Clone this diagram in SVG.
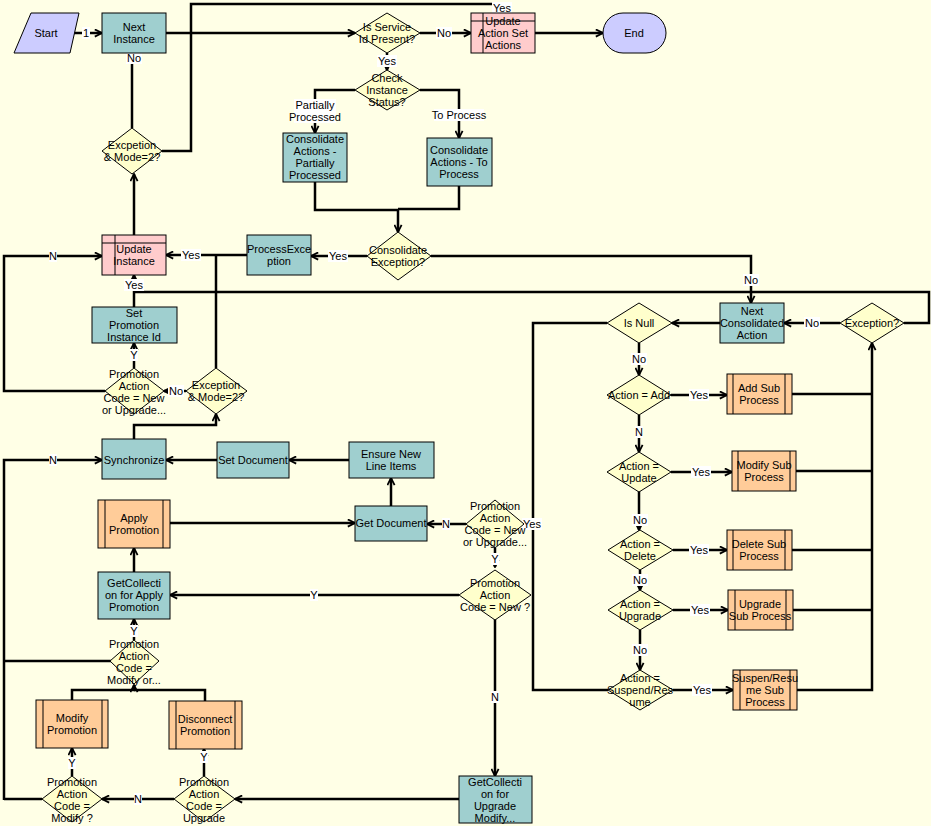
<svg xmlns="http://www.w3.org/2000/svg" width="931" height="826" viewBox="0 0 931 826">
<style>
.t{font-family:"Liberation Sans",Arial,sans-serif;font-size:11px;fill:#000;text-anchor:middle}
.teal{fill:#9FCFCF;stroke:#000;stroke-width:1}
.pink{fill:#FFCCCC;stroke:#000;stroke-width:1}
.org{fill:#FFCC99;stroke:#000;stroke-width:1}
.lav{fill:#CCCCFF;stroke:#000;stroke-width:1}
.dia{fill:#FFFFCC;stroke:#000;stroke-width:1}
.in{stroke:#000;stroke-width:1;fill:none}
.c{fill:none;stroke:#000;stroke-width:2.5}
.a{marker-end:url(#ar)}
.lb{fill:#fff}
</style>
<defs>
<marker id="ar" viewBox="0 0 10 10" refX="9" refY="5" markerWidth="9" markerHeight="9" markerUnits="userSpaceOnUse" orient="auto">
<path d="M1,1 L9,5 L1,9" fill="none" stroke="#000" stroke-width="2"/>
</marker>
</defs>
<rect width="931" height="826" fill="#FFFFE6"/>

<g id="connectors">
<path class="c a" d="M71,33 H102"/>
<path class="c a" d="M166,33 H355"/>
<path class="c a" d="M420,33 H471"/>
<path class="c a" d="M535,33 H603"/>
<path class="c a" d="M387,53 V70"/>
<path class="c a" d="M355,90 H315 V133"/>
<path class="c a" d="M420,90 H459 V138"/>
<path class="c a" d="M315,182 V210 H398 V232"/>
<path class="c" d="M459,186 V209 H398"/>
<path class="c a" d="M367,256 H311"/>
<path class="c a" d="M431,256 H751 V303"/>
<path class="c a" d="M247,255 H166"/>
<path class="c" d="M216,368 V255"/>
<path class="c a" d="M134,235 V174"/>
<path class="c a" d="M132,128 V53"/>
<path class="c a" d="M162,151 H191 V4 H503 V13"/>
<path class="c a" d="M105,391 H4 V256 H102"/>
<path class="c a" d="M134,368 V343"/>
<path class="c a" d="M134,307 V275"/>
<path class="c" d="M904,323 H929 V292 H134"/>
<path class="c a" d="M186,391 H164"/>
<path class="c a" d="M134,439 V425 H216 V414"/>
<path class="c a" d="M217,460 H166"/>
<path class="c a" d="M349,460 H289"/>
<path class="c a" d="M391,506 V478"/>
<path class="c a" d="M170,523 H355"/>
<path class="c a" d="M466,524 H427"/>
<path class="c" d="M524,524 H533"/>
<path class="c" d="M607,323 H533 V690 H608"/>
<path class="c a" d="M495,548 V567"/>
<path class="c a" d="M459,595 H170"/>
<path class="c a" d="M495,618 V776"/>
<path class="c a" d="M459,799 H235"/>
<path class="c a" d="M134,572 V548"/>
<path class="c a" d="M134,640 V619"/>
<path class="c" d="M111,661 H4"/>
<path class="c a" d="M4,800 V460 H102"/>
<path class="c a" d="M72,700 V690 H134 V685"/>
<path class="c" d="M205,701 V690 H134"/>
<path class="c a" d="M72,776 V748"/>
<path class="c a" d="M204,776 V749"/>
<path class="c a" d="M174,799 H102"/>
<path class="c" d="M42,799 H4"/>
<path class="c a" d="M720,323 H672"/>
<path class="c a" d="M840,323 H784"/>
<path class="c a" d="M639,343 V375"/>
<path class="c a" d="M671,395 H727"/>
<path class="c a" d="M639,415 V452"/>
<path class="c a" d="M671,472 H732"/>
<path class="c a" d="M639,491 V530"/>
<path class="c a" d="M673,550 H727"/>
<path class="c a" d="M640,570 V590"/>
<path class="c a" d="M673,610 H728"/>
<path class="c a" d="M640,630 V670"/>
<path class="c a" d="M673,690 H733"/>
<path class="c" d="M792,394 H872 M796,471 H872 M792,550 H872 M793,610 H872"/>
<path class="c a" d="M797,690 H872 V343"/>
</g>

<g id="labels">
<rect class="lb" x="82" y="27" width="8" height="12"/><text class="t" x="86" y="37">1</text>
<rect class="lb" x="436" y="27" width="16" height="12"/><text class="t" x="444" y="37">No</text>
<rect class="lb" x="377" y="55" width="20" height="12"/><text class="t" x="387" y="65">Yes</text>
<rect class="lb" x="294" y="99" width="42" height="24"/><text class="t" x="315" y="109">Partially</text><text class="t" x="315" y="121">Processed</text>
<rect class="lb" x="434" y="109" width="50" height="12"/><text class="t" x="459" y="119">To Process</text>
<rect class="lb" x="328" y="250" width="20" height="12"/><text class="t" x="338" y="260">Yes</text>
<rect class="lb" x="743" y="274" width="16" height="12"/><text class="t" x="751" y="284">No</text>
<rect class="lb" x="181" y="249" width="20" height="12"/><text class="t" x="191" y="259">Yes</text>
<rect class="lb" x="126" y="52" width="16" height="12"/><text class="t" x="134" y="62">No</text>
<rect class="lb" x="492" y="2" width="20" height="12"/><text class="t" x="502" y="12">Yes</text>
<rect class="lb" x="49" y="250" width="8" height="12"/><text class="t" x="53" y="260">N</text>
<rect class="lb" x="130" y="349" width="8" height="12"/><text class="t" x="134" y="359">Y</text>
<rect class="lb" x="124" y="279" width="20" height="12"/><text class="t" x="134" y="289">Yes</text>
<rect class="lb" x="168" y="385" width="16" height="12"/><text class="t" x="176" y="395">No</text>
<rect class="lb" x="442" y="518" width="8" height="12"/><text class="t" x="446" y="528">N</text>
<rect class="lb" x="522" y="518" width="20" height="12"/><text class="t" x="532" y="528">Yes</text>
<rect class="lb" x="491" y="553" width="8" height="12"/><text class="t" x="495" y="563">Y</text>
<rect class="lb" x="310" y="589" width="8" height="12"/><text class="t" x="314" y="599">Y</text>
<rect class="lb" x="491" y="691" width="8" height="12"/><text class="t" x="495" y="701">N</text>
<rect class="lb" x="130" y="625" width="8" height="12"/><text class="t" x="134" y="635">Y</text>
<rect class="lb" x="49" y="454" width="8" height="12"/><text class="t" x="53" y="464">N</text>
<rect class="lb" x="68" y="757" width="8" height="12"/><text class="t" x="72" y="767">Y</text>
<rect class="lb" x="200" y="751" width="8" height="12"/><text class="t" x="204" y="761">Y</text>
<rect class="lb" x="134" y="793" width="8" height="12"/><text class="t" x="138" y="803">N</text>
<rect class="lb" x="804" y="317" width="16" height="12"/><text class="t" x="812" y="327">No</text>
<rect class="lb" x="631" y="353" width="16" height="12"/><text class="t" x="639" y="363">No</text>
<rect class="lb" x="689" y="389" width="20" height="12"/><text class="t" x="699" y="399">Yes</text>
<rect class="lb" x="635" y="426" width="8" height="12"/><text class="t" x="639" y="436">N</text>
<rect class="lb" x="691" y="466" width="20" height="12"/><text class="t" x="701" y="476">Yes</text>
<rect class="lb" x="632" y="514" width="16" height="12"/><text class="t" x="640" y="524">No</text>
<rect class="lb" x="689" y="544" width="20" height="12"/><text class="t" x="699" y="554">Yes</text>
<rect class="lb" x="632" y="574" width="16" height="12"/><text class="t" x="640" y="584">No</text>
<rect class="lb" x="690" y="604" width="20" height="12"/><text class="t" x="700" y="614">Yes</text>
<rect class="lb" x="632" y="644" width="16" height="12"/><text class="t" x="640" y="654">No</text>
<rect class="lb" x="692" y="684" width="20" height="12"/><text class="t" x="702" y="694">Yes</text>
</g>

<g id="start"><polygon class="lav" points="31,13 79,13 70,53 14,53"/><text class="t" x="46" y="37">Start</text></g>
<g id="next-instance"><rect class="teal" x="102" y="13" width="64" height="40"/><text class="t" x="134" y="31">Next</text><text class="t" x="134" y="43">Instance</text></g>
<g id="is-service"><polygon class="dia" points="387,13 420,33 387,53 355,33"/><text class="t" x="387" y="31">Is Service</text><text class="t" x="387" y="43">Id Present?</text></g>
<g id="update-action-set"><rect class="pink" x="471" y="13" width="64" height="40"/><path class="in" d="M483,13 V53 M471,21 H535"/><text class="t" x="503" y="25">Update</text><text class="t" x="503" y="37">Action Set</text><text class="t" x="503" y="49">Actions</text></g>
<g id="end"><rect class="lav" x="603" y="13" width="63" height="40" rx="20" ry="20"/><text class="t" x="634" y="37">End</text></g>
<g id="check-status"><polygon class="dia" points="387,70 420,90 387,110 355,90"/><text class="t" x="387" y="82">Check</text><text class="t" x="387" y="94">Instance</text><text class="t" x="387" y="106">Status?</text></g>
<g id="cons-partial"><rect class="teal" x="283" y="133" width="64" height="49"/><text class="t" x="315" y="143">Consolidate</text><text class="t" x="315" y="155">Actions -</text><text class="t" x="315" y="167">Partially</text><text class="t" x="315" y="179">Processed</text></g>
<g id="cons-toprocess"><rect class="teal" x="427" y="138" width="65" height="48"/><text class="t" x="459" y="154">Consolidate</text><text class="t" x="459" y="166">Actions - To</text><text class="t" x="459" y="178">Process</text></g>
<g id="cons-exception"><polygon class="dia" points="398,232 431,256 398,280 367,256"/><text class="t" x="398" y="254">Consolidate</text><text class="t" x="398" y="266">Exception?</text></g>
<g id="process-exception"><rect class="teal" x="247" y="235" width="64" height="40"/><text class="t" x="279" y="253">ProcessExce</text><text class="t" x="279" y="265">ption</text></g>
<g id="excpetion-mode"><polygon class="dia" points="132,128 162,151 132,174 102,151"/><text class="t" x="132" y="149">Excpetion</text><text class="t" x="132" y="161">&amp; Mode=2?</text></g>
<g id="update-instance"><rect class="pink" x="102" y="235" width="64" height="40"/><path class="in" d="M115,235 V275 M102,243 H166"/><text class="t" x="134" y="253">Update</text><text class="t" x="134" y="265">Instance</text></g>
<g id="set-promo-id"><rect class="teal" x="92" y="307" width="85" height="36"/><text class="t" x="134" y="317">Set</text><text class="t" x="134" y="329">Promotion</text><text class="t" x="134" y="341">Instance Id</text></g>
<g id="pac-newup-left"><polygon class="dia" points="134,368 164,391 134,414 105,391"/><text class="t" x="134" y="378">Promotion</text><text class="t" x="134" y="390">Action</text><text class="t" x="134" y="402">Code = New</text><text class="t" x="134" y="414">or Upgrade...</text></g>
<g id="exception-mode"><polygon class="dia" points="216,368 247,391 216,414 186,391"/><text class="t" x="216" y="389">Exception</text><text class="t" x="216" y="401">&amp; Mode=2?</text></g>
<g id="synchronize"><rect class="teal" x="102" y="439" width="64" height="40"/><text class="t" x="134" y="464">Synchronize</text></g>
<g id="set-document"><rect class="teal" x="217" y="442" width="72" height="36"/><text class="t" x="253" y="464">Set Document</text></g>
<g id="ensure-new"><rect class="teal" x="349" y="442" width="85" height="36"/><text class="t" x="391" y="458">Ensure New</text><text class="t" x="391" y="470">Line Items</text></g>
<g id="get-document"><rect class="teal" x="355" y="506" width="72" height="35"/><text class="t" x="391" y="527">Get Document</text></g>
<g id="apply-promotion"><rect class="org" x="98" y="500" width="72" height="48"/><path class="in" d="M105,500 V548 M163,500 V548"/><text class="t" x="134" y="522">Apply</text><text class="t" x="134" y="534">Promotion</text></g>
<g id="pac-newup-center"><polygon class="dia" points="495,500 524,524 495,548 466,524"/><text class="t" x="495" y="510">Promotion</text><text class="t" x="495" y="522">Action</text><text class="t" x="495" y="534">Code = New</text><text class="t" x="495" y="546">or Upgrade...</text></g>
<g id="pac-new"><polygon class="dia" points="495,570 531,595 495,620 459,595"/><text class="t" x="495" y="587">Promotion</text><text class="t" x="495" y="599">Action</text><text class="t" x="495" y="611">Code = New ?</text></g>
<g id="getcoll-apply"><rect class="teal" x="98" y="572" width="72" height="47"/><text class="t" x="134" y="587">GetCollecti</text><text class="t" x="134" y="599">on for Apply</text><text class="t" x="134" y="611">Promotion</text></g>
<g id="pac-modify-or"><polygon class="dia" points="134,640 159,661 134,684 110,661"/><text class="t" x="134" y="648">Promotion</text><text class="t" x="134" y="660">Action</text><text class="t" x="134" y="672">Code =</text><text class="t" x="134" y="684">Modify or...</text></g>
<g id="modify-promotion"><rect class="org" x="36" y="700" width="72" height="48"/><path class="in" d="M43,700 V748 M102,700 V748"/><text class="t" x="72" y="722">Modify</text><text class="t" x="72" y="734">Promotion</text></g>
<g id="disconnect-promotion"><rect class="org" x="169" y="701" width="73" height="48"/><path class="in" d="M176,701 V749 M235,701 V749"/><text class="t" x="205" y="723">Disconnect</text><text class="t" x="205" y="735">Promotion</text></g>
<g id="pac-modify"><polygon class="dia" points="72,776 102,799 72,822 42,799"/><text class="t" x="72" y="786">Promotion</text><text class="t" x="72" y="798">Action</text><text class="t" x="72" y="810">Code =</text><text class="t" x="72" y="822">Modify ?</text></g>
<g id="pac-upgrade"><polygon class="dia" points="204,776 235,799 204,822 174,799"/><text class="t" x="204" y="786">Promotion</text><text class="t" x="204" y="798">Action</text><text class="t" x="204" y="810">Code =</text><text class="t" x="204" y="822">Upgrade</text></g>
<g id="getcoll-upgrade"><rect class="teal" x="459" y="776" width="73" height="47"/><text class="t" x="495" y="786">GetCollecti</text><text class="t" x="495" y="798">on for</text><text class="t" x="495" y="810">Upgrade</text><text class="t" x="495" y="822">Modify...</text></g>
<g id="next-consolidated"><rect class="teal" x="720" y="303" width="64" height="40"/><text class="t" x="752" y="315">Next</text><text class="t" x="752" y="327">Consolidated</text><text class="t" x="752" y="339">Action</text></g>
<g id="exception-q"><polygon class="dia" points="872,303 904,323 872,343 840,323"/><text class="t" x="872" y="327">Exception?</text></g>
<g id="is-null"><polygon class="dia" points="639,303 672,323 639,343 607,323"/><text class="t" x="639" y="327">Is Null</text></g>
<g id="action-add"><polygon class="dia" points="639,375 671,395 639,415 607,395"/><text class="t" x="639" y="399">Action = Add</text></g>
<g id="add-sub"><rect class="org" x="727" y="374" width="65" height="40"/><path class="in" d="M733,374 V414 M785,374 V414"/><text class="t" x="759" y="392">Add Sub</text><text class="t" x="759" y="404">Process</text></g>
<g id="action-update"><polygon class="dia" points="639,452 671,472 639,492 607,472"/><text class="t" x="639" y="470">Action =</text><text class="t" x="639" y="482">Update</text></g>
<g id="modify-sub"><rect class="org" x="732" y="451" width="64" height="40"/><path class="in" d="M738,451 V491 M790,451 V491"/><text class="t" x="764" y="469">Modify Sub</text><text class="t" x="764" y="481">Process</text></g>
<g id="action-delete"><polygon class="dia" points="640,530 673,550 640,570 608,550"/><text class="t" x="640" y="548">Action =</text><text class="t" x="640" y="560">Delete</text></g>
<g id="delete-sub"><rect class="org" x="727" y="530" width="65" height="40"/><path class="in" d="M733,530 V570 M785,530 V570"/><text class="t" x="759" y="548">Delete Sub</text><text class="t" x="759" y="560">Process</text></g>
<g id="action-upgrade"><polygon class="dia" points="640,590 673,610 640,630 608,610"/><text class="t" x="640" y="608">Action =</text><text class="t" x="640" y="620">Upgrade</text></g>
<g id="upgrade-sub"><rect class="org" x="728" y="590" width="65" height="40"/><path class="in" d="M735,590 V630 M786,590 V630"/><text class="t" x="760" y="608">Upgrade</text><text class="t" x="760" y="620">Sub Process</text></g>
<g id="action-suspend"><polygon class="dia" points="640,670 673,690 640,710 608,690"/><text class="t" x="640" y="682">Action =</text><text class="t" x="640" y="694">Suspend/Res</text><text class="t" x="640" y="706">ume</text></g>
<g id="suspend-sub"><rect class="org" x="733" y="670" width="64" height="40"/><path class="in" d="M740,670 V710 M790,670 V710"/><text class="t" x="765" y="682">Suspen/Resu</text><text class="t" x="765" y="694">me Sub</text><text class="t" x="765" y="706">Process</text></g>
</svg>
